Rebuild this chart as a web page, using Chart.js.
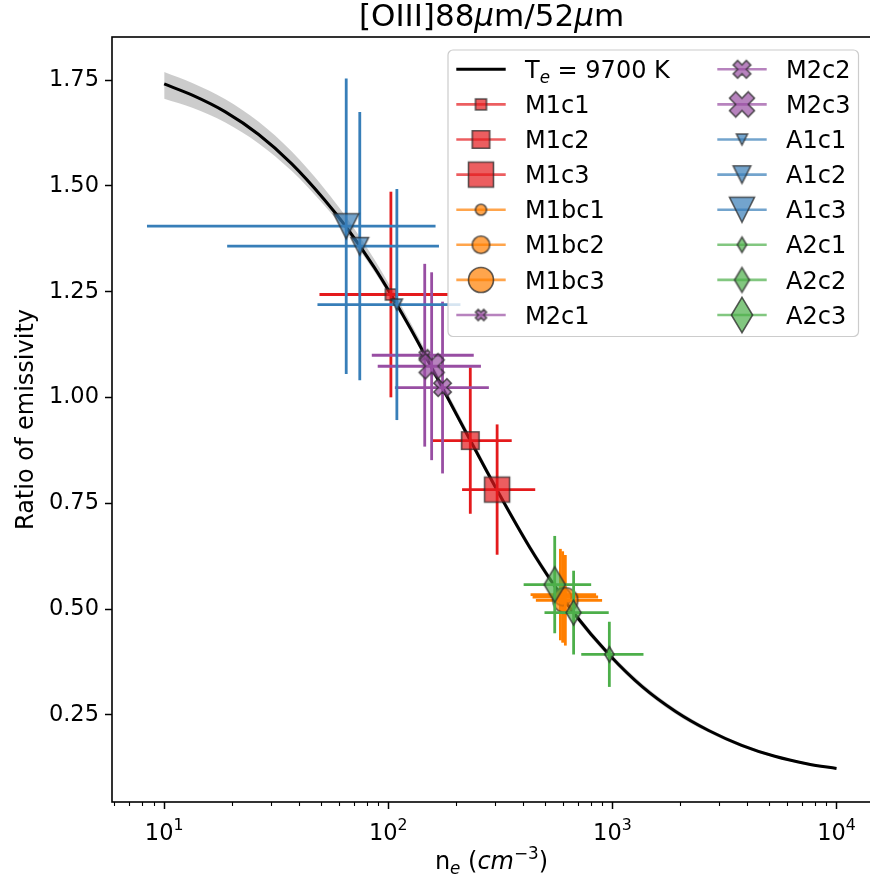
<!DOCTYPE html>
<html>
<head>
<meta charset="utf-8">
<script src="https://cdn.jsdelivr.net/npm/chart.js@4.4.1/dist/chart.umd.min.js"></script>
<style>
  html, body { margin:0; padding:0; background:#fff; overflow:hidden; }
  #wrap { width:880px; height:879px; }
</style>
</head>
<body>
<div id="wrap"><canvas id="ratioChart" width="880" height="879"></canvas></div>
<script>
/* -----------------------------------------------------------
   [OIII] 88/52 um emissivity ratio vs electron density
   values
----------------------------------------------------------- */

/* ---------- model curve (Te = 9700 K) + uncertainty band ---------- */
const curveNe    = [10, 13.35, 18.75, 26.4, 37, 52, 64.9, 86.6, 106.4, 126, 174, 232,
                    305, 428.5, 553, 667, 968, 1362, 1914, 2688, 3773, 5305, 7450, 10000];
const curveRatio = [1.741, 1.7145, 1.675, 1.6215, 1.5527, 1.4669, 1.403, 1.3076, 1.230, 1.1617, 1.0237, 0.899,
                    0.782, 0.645, 0.554, 0.493, 0.392, 0.316, 0.258, 0.213, 0.178, 0.152, 0.134, 0.123];
const bandHi     = [1.769, 1.7435, 1.705, 1.6515, 1.5817, 1.4929, 1.426, 1.3266, 1.246, 1.1757, 1.0357, 0.909,
                    0.791, 0.653, 0.562, 0.501, 0.399, 0.323, 0.264, 0.218, 0.182, 0.155, 0.137, 0.125];
const bandLo     = [1.706, 1.6845, 1.650, 1.6005, 1.5357, 1.4529, 1.391, 1.2976, 1.221, 1.1537, 1.0157, 0.891,
                    0.774, 0.637, 0.546, 0.486, 0.385, 0.310, 0.252, 0.208, 0.174, 0.149, 0.131, 0.121];

/* ---------- measured regions ---------- */
const regionNames = ['M1c1','M1c2','M1c3','M1bc1','M1bc2','M1bc3','M2c1','M2c2','M2c3',
                     'A1c1','A1c2','A1c3','A2c1','A2c2','A2c3'];
const ne       = [102.7, 232.2, 305.9, 586.0, 599.8, 616.6, 145.4, 174.6, 156.1, 109.2, 74.6, 64.9, 969, 671.2, 552.8];
const neLo     = [49.3, 158.2, 213.4, 431.4, 440.4, 455.5, 84.4, 107, 89.7, 48.3, 19.1, 8.38, 726, 497.7, 401.7];
const neHi     = [184.5, 355.4, 452.5, 845.9, 863.4, 899.4, 240.6, 281, 259, 209.8, 168.3, 162.5, 1376, 962.9, 804];
const ratio    = [1.2434, 0.8982, 0.7824, 0.5342, 0.5285, 0.5207, 1.0999, 1.0235, 1.0739,
                  1.2197, 1.3576, 1.4048, 0.393, 0.4916, 0.5578];
const ratioErr = [0.243, 0.173, 0.154, 0.108, 0.108, 0.107, 0.216, 0.203, 0.222,
                  0.273, 0.317, 0.349, 0.077, 0.099, 0.115];

/* ---------- ticks ---------- */
const xTickVals = [10, 100, 1000, 10000];
const xTickBase = ['10', '10', '10', '10'];
const xTickExp  = ['1', '2', '3', '4'];
const yTickVals = [0.25, 0.50, 0.75, 1.00, 1.25, 1.50, 1.75];

/* ---------- styles ---------- */
const SET1 = { red:'#e41a1c', orange:'#ff7f00', purple:'#984ea3', blue:'#377eb8', green:'#4daf4a' };
const groupColor = ['red','red','red','orange','orange','orange','purple','purple','purple',
                    'blue','blue','blue','green','green','green'];
const groupShape = ['s','s','s','o','o','o','X','X','X','v','v','v','d','d','d'];
const MS         = [11, 17.5, 25];          // marker size per c1/c2/c3
const FONT       = '"DejaVu Sans", sans-serif';
const FS_TICK = 22.5, FS_LABEL = 24, FS_LEG = 24, FS_TITLE = 31;

const hexA = (hex, a) => {
  const n = parseInt(hex.slice(1), 16);
  return `rgba(${n>>16&255},${n>>8&255},${n&255},${a})`;
};

/* matplotlib-like marker sprites */
function markerImg (shape, ms, hex) {
  const w = Math.ceil(ms * 1.5) + 6;
  const c = document.createElement('canvas');
  c.width = w; c.height = w;
  const g = c.getContext('2d');
  g.translate(w/2, w/2);
  g.beginPath();
  const h = ms/2;
  if (shape === 's') g.rect(-h, -h, ms, ms);
  else if (shape === 'o') g.arc(0, 0, h, 0, Math.PI*2);
  else if (shape === 'v') { g.moveTo(-h, -h); g.lineTo(h, -h); g.lineTo(0, h); g.closePath(); }
  else if (shape === 'd') {                       // thin diamond
    const dy = ms*0.707, dx = ms*0.707*0.6;
    g.moveTo(0, -dy); g.lineTo(dx, 0); g.lineTo(0, dy); g.lineTo(-dx, 0); g.closePath();
  } else if (shape === 'X') {                     // filled X
    const q = ms/4;
    const pts = [[q,0],[h,q],[q,h],[0,q],[-q,h],[-h,q],[-q,0],[-h,-q],[-q,-h],[0,-q],[q,-h],[h,-q]];
    pts.forEach(([x,y],i)=> i ? g.lineTo(x,y) : g.moveTo(x,y));
    g.closePath();
  }
  g.fillStyle = hexA(hex, 0.7);
  g.fill();
  g.lineWidth = 1.6;
  g.lineJoin = 'miter';
  g.strokeStyle = 'rgba(40,40,40,0.75)';
  g.stroke();
  return c;
}

const sprites = regionNames.map((_, i) =>
  markerImg(groupShape[i], MS[i % 3], SET1[groupColor[i]]));

/* ---------- datasets ---------- */
const xy = (xs, ys) => xs.map((x, i) => ({ x, y: ys[i] }));
const datasets = [];

datasets.push({ label:'bandHi', data: xy(curveNe, bandHi), fill:'+1',
  backgroundColor:'rgba(128,128,128,0.4)', borderColor:'rgba(0,0,0,0)', borderWidth:1,
  pointRadius:0, cubicInterpolationMode:'monotone', order:1002 });
datasets.push({ label:'bandLo', data: xy(curveNe, bandLo), fill:false,
  borderColor:'rgba(0,0,0,0)', borderWidth:1,
  pointRadius:0, cubicInterpolationMode:'monotone', order:1001 });
datasets.push({ label:'Te', data: xy(curveNe, curveRatio), fill:false,
  borderColor:'#000', borderWidth:3, pointRadius:0,
  cubicInterpolationMode:'monotone', order:1000 });

regionNames.forEach((name, i) => {
  const col = SET1[groupColor[i]];
  const bar = { fill:false, borderColor:col, borderWidth:2.8, pointRadius:0,
                borderCapStyle:'butt', tension:0, order: 500 - 3*i };
  datasets.push({ ...bar, label:name+' xerr',
    data:[{x:neLo[i], y:ratio[i]}, {x:neHi[i], y:ratio[i]}] });
  datasets.push({ ...bar, label:name+' yerr',
    data:[{x:ne[i], y:ratio[i]-ratioErr[i]}, {x:ne[i], y:ratio[i]+ratioErr[i]}] });
  datasets.push({ label:name, data:[{x:ne[i], y:ratio[i]}], showLine:false,
    pointStyle:sprites[i], pointRadius:8, pointHoverRadius:8, order: 500 - 3*i - 1 });
});

/* ---------- helpers for mixed-style text ---------- */
const fontOf = p => `${p.it ? 'italic ' : ''}${p.size}px ${FONT}`;
function drawRich (ctx, parts, x, y, align) {
  let total = 0;
  parts.forEach(p => { ctx.font = fontOf(p); p.w = ctx.measureText(p.t).width; total += p.w; });
  let cx = align === 'center' ? x - total/2 : x;
  ctx.textAlign = 'left';
  ctx.textBaseline = 'alphabetic';
  parts.forEach(p => { ctx.font = fontOf(p); ctx.fillText(p.t, cx, y + (p.dy || 0)); cx += p.w; });
}

/* ---------- frame, minor ticks, labels, legend ---------- */
const decorations = {
  id: 'decorations',
  afterDraw (chart) {
    const { ctx, chartArea: ca, scales } = chart;
    ctx.save();
    ctx.fillStyle = '#000';
    ctx.strokeStyle = '#000';

    /* minor log ticks */
    ctx.lineWidth = 1.1;
    for (let d = 0; d <= 4; d++) {
      for (let k = 2; k <= 9; k++) {
        const v = k * Math.pow(10, d);
        if (v < scales.x.min || v > scales.x.max) continue;
        const px = Math.round(scales.x.getPixelForValue(v)) + 0.5;
        ctx.beginPath(); ctx.moveTo(px, ca.bottom); ctx.lineTo(px, ca.bottom + 4); ctx.stroke();
      }
    }

    /* x tick labels 10^n */
    xTickVals.forEach((v, i) => {
      const px = scales.x.getPixelForValue(v);
      drawRich(ctx, [{ t:xTickBase[i], size:FS_TICK },
                     { t:xTickExp[i], size:FS_TICK*0.7, dy:-FS_TICK*0.45 }],
               px, ca.bottom + 38, 'center');
    });

    /* frame */
    ctx.lineWidth = 1.6;
    ctx.strokeRect(ca.left, ca.top, ca.right - ca.left, ca.bottom - ca.top);

    /* title */
    const cx = (ca.left + ca.right) / 2;
    drawRich(ctx, [
      { t:'[OIII]88', size:FS_TITLE }, { t:'\u03BC', size:FS_TITLE, it:true },
      { t:'m/52', size:FS_TITLE }, { t:'\u03BC', size:FS_TITLE, it:true },
      { t:'m', size:FS_TITLE }], cx, ca.top - 11, 'center');

    /* x label */
    const s = FS_LABEL, ss = FS_LABEL * 0.7;
    drawRich(ctx, [
      { t:'n', size:s }, { t:'e', size:ss, it:true, dy:s*0.2 },
      { t:' (', size:s }, { t:'cm', size:s, it:true },
      { t:'\u22123', size:ss, dy:-s*0.42 }, { t:')', size:s }], cx, ca.bottom + 67, 'center');

    /* y label */
    ctx.save();
    ctx.translate(24, (ca.top + ca.bottom) / 2);
    ctx.rotate(-Math.PI / 2);
    drawRich(ctx, [{ t:'Ratio of emissivity', size:s }], 0, 9, 'center');
    ctx.restore();

    /* legend */
    const bw = 410.5, bh = 286.5;
    const bx = ca.right - 12.5 - bw, by = ca.top + 13;
    ctx.beginPath();
    ctx.roundRect(bx, by, bw, bh, 5);
    ctx.fillStyle = 'rgba(255,255,255,0.8)';
    ctx.fill();
    ctx.lineWidth = 1.2;
    ctx.strokeStyle = 'rgba(204,204,204,1)';
    ctx.stroke();

    const entries = [{ name:'Te' }].concat(regionNames.map((n, i) => ({ name:n, i })));
    entries.forEach((e, k) => {
      const col = Math.floor(k / 8), row = k % 8;
      const x0 = bx + 8.3 + col * 261;
      const yc = by + 19.3 + row * 35.1;
      ctx.lineCap = 'butt';
      if (e.name === 'Te') {
        ctx.strokeStyle = '#000'; ctx.lineWidth = 3;
      } else {
        ctx.strokeStyle = hexA(SET1[groupColor[e.i]], 0.7); ctx.lineWidth = 2.6;
      }
      ctx.beginPath(); ctx.moveTo(x0, yc); ctx.lineTo(x0 + 49.4, yc); ctx.stroke();
      if (e.i !== undefined) {
        const img = sprites[e.i];
        ctx.drawImage(img, x0 + 24.7 - img.width/2, yc - img.height/2);
      }
      ctx.fillStyle = '#000';
      const tx = x0 + 68.7, ty = yc + FS_LEG * 0.36;
      if (e.name === 'Te') {
        drawRich(ctx, [{ t:'T', size:FS_LEG }, { t:'e', size:FS_LEG*0.7, it:true, dy:FS_LEG*0.22 },
                       { t:' = 9700 K', size:FS_LEG }], tx, ty, 'left');
      } else {
        drawRich(ctx, [{ t:e.name, size:FS_LEG }], tx, ty, 'left');
      }
    });
    ctx.restore();
  }
};

/* ---------- chart ---------- */
Chart.defaults.font.family = FONT;
Chart.defaults.color = '#000';

new Chart(document.getElementById('ratioChart'), {
  type: 'line',
  data: { datasets },
  options: {
    responsive: false,
    animation: false,
    events: [],
    layout: { padding: { top:37, right:3, left:0, bottom:0 } },
    plugins: { legend:{ display:false }, tooltip:{ enabled:false }, title:{ display:false } },
    scales: {
      x: {
        type: 'logarithmic', min: 5.85, max: 14250,
        afterBuildTicks: s => { s.ticks = xTickVals.map(v => ({ value:v })); },
        afterFit: s => { s.height = 77; },
        ticks: { display:false, maxRotation:0, autoSkip:false },
        grid: { drawOnChartArea:false, drawTicks:true, tickLength:7, tickColor:'#000', tickWidth:1.5 },
        border: { display:false }
      },
      y: {
        type: 'linear', min: 0.044, max: 1.852,
        afterBuildTicks: s => { s.ticks = yTickVals.map(v => ({ value:v })); },
        afterFit: s => { s.width = 112; },
        ticks: { callback: v => v.toFixed(2), font:{ size:FS_TICK }, padding:6 },
        grid: { drawOnChartArea:false, drawTicks:true, tickLength:7, tickColor:'#000', tickWidth:1.5 },
        border: { display:false }
      }
    }
  },
  plugins: [decorations]
});
</script>
</body>
</html>
